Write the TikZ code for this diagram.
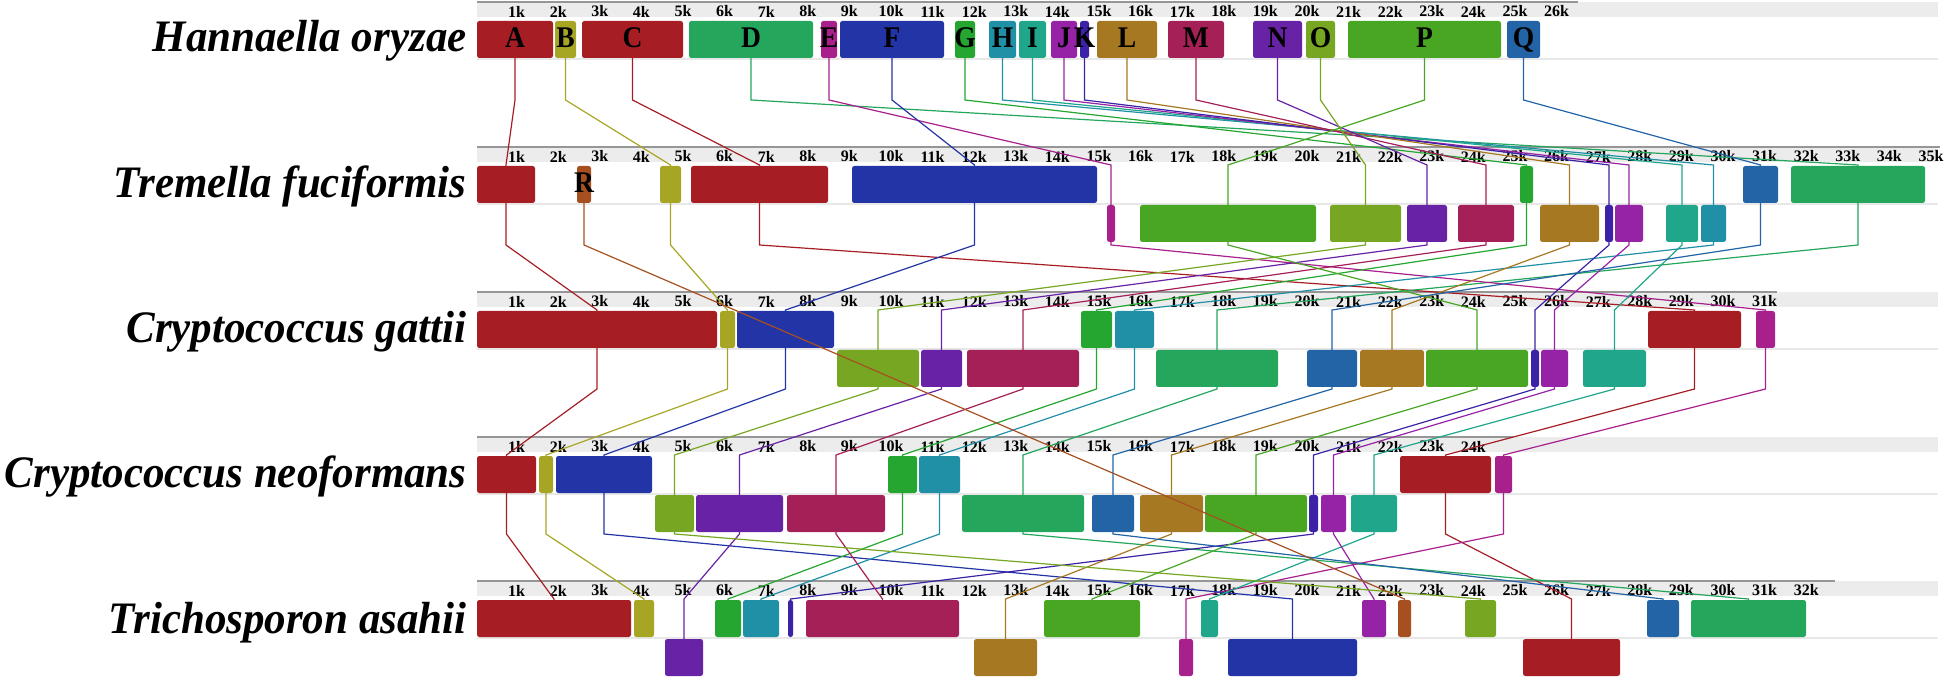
\documentclass[tikz,border=0pt]{standalone}
\usepackage{fontspec}
\setmainfont{Liberation Serif}
\newfontfamily\spfont[FakeStretch=0.955]{Liberation Serif}
\newfontfamily\blfont[FakeStretch=0.92]{Liberation Serif}
\definecolor{cA}{RGB}{166,30,36}
\definecolor{cB}{RGB}{166,166,36}
\definecolor{cD}{RGB}{36,166,92}
\definecolor{cE}{RGB}{168,32,140}
\definecolor{cF}{RGB}{34,52,166}
\definecolor{cG}{RGB}{36,166,48}
\definecolor{cH}{RGB}{32,144,166}
\definecolor{cI}{RGB}{32,166,138}
\definecolor{cJ}{RGB}{150,34,166}
\definecolor{cK}{RGB}{60,34,166}
\definecolor{cL}{RGB}{166,120,34}
\definecolor{cM}{RGB}{166,32,88}
\definecolor{cN}{RGB}{104,34,166}
\definecolor{cO}{RGB}{118,166,34}
\definecolor{cP}{RGB}{72,166,34}
\definecolor{cQ}{RGB}{34,100,166}
\definecolor{cR}{RGB}{166,80,34}
\definecolor{bandgray}{RGB}{236,236,236}
\definecolor{rulegray}{RGB}{150,150,150}
\definecolor{midgray}{RGB}{232,232,232}
\newcommand\mkb[5]{\node[blk,fill=#2,minimum width={(#4-#3)*0.5pt}] (#1) at ({(#3+#4)/2},{#5+18.5}) {};}
\newcommand\cnx[5]{\draw[con,#1] (#2.south) -- (#2.south |- #3) -- (#4.north |- #5) -- (#4.north);}
\begin{document}
\begin{tikzpicture}[x=0.5pt,y=-0.5pt,
 blk/.style={rectangle,inner sep=0pt,outer sep=0pt,rounded corners=1.2pt,minimum height=18.5pt,draw=none},
 lbl/.style={font=\blfont\bfseries\fontsize{15}{16}\selectfont,text=black,inner sep=0pt},
 sp/.style={font=\spfont\bfseries\itshape\fontsize{22.5}{24}\selectfont,inner sep=0pt},
 tk/.style={font=\bfseries\fontsize{8}{9}\selectfont,inner sep=0pt},
 rul/.style={draw=rulegray,line width=1pt},
 mid/.style={draw=midgray,line width=1pt},
 con/.style={line width=0.6pt}]
\useasboundingbox (0,0) rectangle (1950,679);
% rulers
\foreach \r/\e/\n/\t in {2/1578/26/1,147/1940/35/2,292/1777/31/3,437/1513/24/4,581/1835/32/5}{
 \fill[bandgray] (477,\r) rectangle (1938,\r+15);
 \draw[rul] (477,\r) -- (\e,\r);
 \draw[mid] (477,\r+57) -- (1938,\r+57);
 \foreach \k in {1,...,\n} \node[tk] (tick\t-\k) at ({475+41.6*\k},\r+9.5) {\k k};
}
% species
\node[sp,anchor=base east] (n1) at (467,52) {Hannaella oryzae};
\node[sp,anchor=base east] (n2) at (467,198) {Tremella fuciformis};
\node[sp,anchor=base east] (n3) at (467,343) {Cryptococcus gattii};
\node[sp,anchor=base east] (n4) at (467,487) {Cryptococcus neoformans};
\node[sp,anchor=base east] (n5) at (467,633) {Trichosporon asahii};
% track 1
\mkb{aA}{cA}{477}{553}{21}
\mkb{aB}{cB}{555}{576}{21}
\mkb{aC}{cA}{582}{683}{21}
\mkb{aD}{cD}{689}{813}{21}
\mkb{aE}{cE}{821}{837}{21}
\mkb{aF}{cF}{840}{944}{21}
\mkb{aG}{cG}{955}{975}{21}
\mkb{aH}{cH}{989}{1016}{21}
\mkb{aI}{cI}{1019}{1046}{21}
\mkb{aJ}{cJ}{1051}{1077}{21}
\mkb{aK}{cK}{1080}{1089}{21}
\mkb{aL}{cL}{1097}{1157}{21}
\mkb{aM}{cM}{1168}{1224}{21}
\mkb{aN}{cN}{1253}{1302}{21}
\mkb{aO}{cO}{1306}{1335}{21}
\mkb{aP}{cP}{1348}{1501}{21}
\mkb{aQ}{cQ}{1507}{1540}{21}
% track 2
\mkb{bA}{cA}{477}{535}{166}
\mkb{bR}{cR}{577}{591}{166}
\mkb{bB}{cB}{660}{681}{166}
\mkb{bC}{cA}{691}{828}{166}
\mkb{bF}{cF}{852}{1097}{166}
\mkb{bE}{cE}{1107}{1115}{205}
\mkb{bP}{cP}{1140}{1316}{205}
\mkb{bO}{cO}{1330}{1401}{205}
\mkb{bN}{cN}{1407}{1447}{205}
\mkb{bM}{cM}{1458}{1514}{205}
\mkb{bG}{cG}{1520}{1533}{166}
\mkb{bL}{cL}{1540}{1599}{205}
\mkb{bK}{cK}{1605}{1613}{205}
\mkb{bJ}{cJ}{1615}{1643}{205}
\mkb{bI}{cI}{1666}{1698}{205}
\mkb{bH}{cH}{1701}{1726}{205}
\mkb{bQ}{cQ}{1743}{1778}{166}
\mkb{bD}{cD}{1791}{1925}{166}
% track 3
\mkb{cA}{cA}{477}{717}{311}
\mkb{cB}{cB}{720}{735}{311}
\mkb{cF}{cF}{737}{834}{311}
\mkb{cO}{cO}{837}{919}{350}
\mkb{cN}{cN}{921}{962}{350}
\mkb{cM}{cM}{967}{1079}{350}
\mkb{cG}{cG}{1081}{1112}{311}
\mkb{cH}{cH}{1115}{1154}{311}
\mkb{cD}{cD}{1156}{1278}{350}
\mkb{cQ}{cQ}{1307}{1357}{350}
\mkb{cL}{cL}{1360}{1424}{350}
\mkb{cP}{cP}{1426}{1528}{350}
\mkb{cK}{cK}{1531}{1539}{350}
\mkb{cJ}{cJ}{1541}{1568}{350}
\mkb{cI}{cI}{1583}{1646}{350}
\mkb{cC}{cA}{1648}{1741}{311}
\mkb{cE}{cE}{1756}{1775}{311}
% track 4
\mkb{dA}{cA}{477}{536}{456}
\mkb{dB}{cB}{539}{553}{456}
\mkb{dF}{cF}{556}{652}{456}
\mkb{dO}{cO}{655}{694}{495}
\mkb{dN}{cN}{696}{783}{495}
\mkb{dM}{cM}{787}{885}{495}
\mkb{dG}{cG}{888}{917}{456}
\mkb{dH}{cH}{919}{960}{456}
\mkb{dD}{cD}{962}{1084}{495}
\mkb{dQ}{cQ}{1092}{1134}{495}
\mkb{dL}{cL}{1140}{1203}{495}
\mkb{dP}{cP}{1205}{1307}{495}
\mkb{dK}{cK}{1309}{1318}{495}
\mkb{dJ}{cJ}{1321}{1346}{495}
\mkb{dI}{cI}{1351}{1397}{495}
\mkb{dC}{cA}{1400}{1491}{456}
\mkb{dE}{cE}{1495}{1512}{456}
% track 5
\mkb{eA}{cA}{477}{631}{600}
\mkb{eB}{cB}{634}{654}{600}
\mkb{eN}{cN}{665}{703}{639}
\mkb{eG}{cG}{715}{741}{600}
\mkb{eH}{cH}{743}{779}{600}
\mkb{eK}{cK}{788}{793}{600}
\mkb{eM}{cM}{806}{959}{600}
\mkb{eL}{cL}{974}{1037}{639}
\mkb{eP}{cP}{1044}{1140}{600}
\mkb{eE}{cE}{1179}{1193}{639}
\mkb{eI}{cI}{1201}{1218}{600}
\mkb{eF}{cF}{1228}{1357}{639}
\mkb{eJ}{cJ}{1362}{1386}{600}
\mkb{eR}{cR}{1398}{1411}{600}
\mkb{eO}{cO}{1465}{1496}{600}
\mkb{eC}{cA}{1523}{1620}{639}
\mkb{eQ}{cQ}{1647}{1679}{600}
\mkb{eD}{cD}{1691}{1806}{600}
% connector levels
\coordinate (k1) at (0,100);
\coordinate (k2) at (0,245);
\coordinate (k3) at (0,389);
\coordinate (k4) at (0,534);
\coordinate (e2) at (0,165);
\coordinate (e3) at (0,310);
\coordinate (e4) at (0,455);
\coordinate (e5) at (0,599);
\foreach \X/\col in {A/cA,B/cB,C/cA,D/cD,E/cE,F/cF,G/cG,H/cH,I/cI,J/cJ,K/cK,L/cL,M/cM,N/cN,O/cO,P/cP,Q/cQ}{
 \cnx{\col}{a\X}{k1}{b\X}{e2}
 \cnx{\col}{b\X}{k2}{c\X}{e3}
 \cnx{\col}{c\X}{k3}{d\X}{e4}
 \cnx{\col}{d\X}{k4}{e\X}{e5}
}
\cnx{cR}{bR}{k2}{eR}{e5}
% block letters
\coordinate (base1) at (0,48);
\coordinate (base2) at (0,193);
\foreach \X in {A,B,C,D,E,F,G,H,I,J,K,L,M,N,O,P,Q}{
 \node[lbl,anchor=base] (l\X) at (a\X.center |- base1) {\X};
}
\node[lbl,anchor=base] (lR) at (bR.center |- base2) {R};
\end{tikzpicture}
\end{document}
